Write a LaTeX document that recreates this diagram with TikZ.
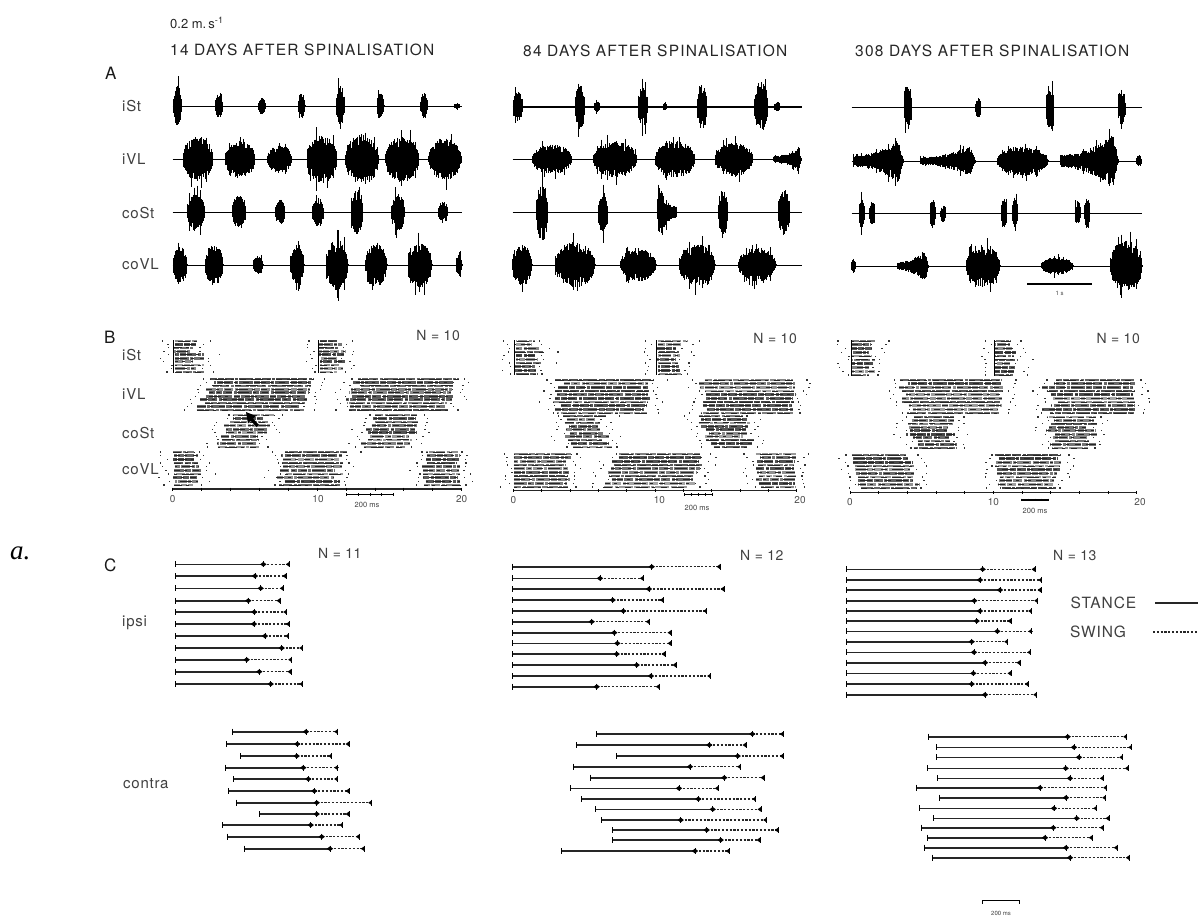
\documentclass[tikz,border=0pt]{standalone}
\usepackage{fontspec}
\setmainfont{TeX Gyre Heros}
\newfontfamily\figserif{Liberation Serif}
\newcommand\hdrfont{\fontsize{15.5}{16}\selectfont\addfontfeatures{LetterSpace=8}}
\newcommand\lblfont{\fontsize{15}{16}\selectfont\addfontfeatures{LetterSpace=5}}
\newcommand\panfont{\fontsize{17}{18}\selectfont}
\newcommand\nfont{\fontsize{14}{15}\selectfont\addfontfeatures{LetterSpace=4}}
\newcommand\tickfont{\fontsize{10}{11}\selectfont}
\newcommand\smallfont{\fontsize{7.5}{8}\selectfont}
% symmetric EMG burst: centre x, baseline y, half width, amplitude
\newcommand\emgb[4]{%
  \pgfmathtruncatemacro\emgN{round(2*#3/0.4)}%
  \foreach \emgK in {0,...,\emgN}{%
    \pgfmathsetmacro\emgT{-1+2*\emgK/\emgN}%
    \pgfmathsetmacro\emgX{#1+#3*\emgT}%
    \pgfmathsetmacro\emgE{sqrt(max(0,1-\emgT*\emgT))}%
    \pgfmathsetmacro\emgS{rnd>0.93?1.5:1}%
    \pgfmathsetmacro\emgU{#4*\emgE*\emgS*(0.45+0.55*rnd)+0.8}%
    \pgfmathsetmacro\emgD{#4*\emgE*\emgS*(0.45+0.55*rnd)+0.8}%
    \draw[emg] (\emgX,#2-\emgU) -- (\emgX,#2+\emgD);
  }}
% ramp EMG burst: x0, x1, baseline y, amplitude, direction (1 rising, -1 falling)
\newcommand\emgr[5]{%
  \pgfmathtruncatemacro\emgN{round((#2-#1)/0.4)}%
  \foreach \emgK in {0,...,\emgN}{%
    \pgfmathsetmacro\emgT{\emgK/\emgN}%
    \pgfmathsetmacro\emgV{#5>0?\emgT:1-\emgT}%
    \pgfmathsetmacro\emgX{#1+(#2-#1)*\emgT}%
    \pgfmathsetmacro\emgE{(0.18+0.82*\emgV*\emgV)*min(1,(1-\emgV)*10+0.05)}%
    \pgfmathsetmacro\emgS{rnd>0.93?1.5:1}%
    \pgfmathsetmacro\emgU{#4*\emgE*\emgS*(0.45+0.55*rnd)+0.8}%
    \pgfmathsetmacro\emgD{#4*\emgE*\emgS*(0.45+0.55*rnd)+0.8}%
    \draw[emg] (\emgX,#3-\emgU) -- (\emgX,#3+\emgD);
  }}
% raster band: x0 x1 ytop ybot shift jitterstart jitterend
\newcommand\rband[7]{%
  \foreach \rbR in {0,...,9}{%
    \pgfmathsetmacro\rbY{#3+(#4-#3)*\rbR/9}%
    \pgfmathsetmacro\rbS{#1+#5*\rbR/9+#6*rand}%
    \pgfmathsetmacro\rbE{#2+#5*\rbR/9+#7*rand}%
    \pgfmathsetmacro\rbP{25*rnd}%
    \pgfmathsetmacro\rbQ{20*rnd}%
    \pgfmathtruncatemacro\rbG{35+40*rnd}%
    \draw[rastrow,black!\rbG,dash phase=\rbP] (\rbS,\rbY) -- (\rbE,\rbY);
    \draw[rastblk,dash phase=\rbQ] (\rbS,\rbY) -- (\rbE,\rbY);
    \pgfmathsetmacro\rbA{\rbS-3-12*rnd}%
    \pgfmathsetmacro\rbB{\rbE+3+12*rnd}%
    \fill[black!80] (\rbA,\rbY-0.6) rectangle ++(1.3,1.2);
    \fill[black!80] (\rbB,\rbY-0.6) rectangle ++(1.3,1.2);
  }}
% step bar of panel C: y, start, mid, end
\newcommand\cbar[4]{%
  \draw[stance] (#2,#1) -- (#3,#1);
  \draw[swing] (#3,#1) -- (#4,#1);
  \draw[ctick] (#2,#1-3) -- (#2,#1+3);
  \draw[ctick] (#3,#1-3) -- (#3,#1+3);
  \fill[cmark] (#3-3.2,#1) -- (#3,#1-2.4) -- (#3+3.2,#1) -- (#3,#1+2.4) -- cycle;
  \draw[ctick] (#4,#1-3) -- (#4,#1+3);
  \fill[cmark] (#4,#1-2.4) -- (#4-3.5,#1) -- (#4,#1+2.4) -- cycle;
}
\begin{document}
\begin{tikzpicture}[x=1pt,y=-1pt,
  emg/.style={line width=0.9pt,black},
  base/.style={line width=1pt,black},
  rastrow/.style={line width=2.7pt,dash pattern=on 14pt off 1.2pt on 6pt off 1pt on 9pt off 1.6pt on 3pt off 1pt},
  rastblk/.style={line width=0.9pt,black!85,dash pattern=on 6pt off 5pt on 12pt off 4pt on 3pt off 6pt},
  stance/.style={line width=1.6pt,black!85},
  swing/.style={line width=1.1pt,black!85,dash pattern=on 2.2pt off 1.6pt},
  ctick/.style={line width=1pt,black},
  cmark/.style={fill=black},
  axisl/.style={line width=1.1pt,black!85},
  sbar/.style={line width=1.1pt,black},
  hdr/.style={font=\hdrfont,text=black!85,inner sep=0pt,anchor=west},
  lbl/.style={font=\lblfont,text=black!75,inner sep=0pt,anchor=west},
  pan/.style={font=\panfont,text=black!90,inner sep=0pt,anchor=west},
  ncount/.style={font=\nfont,text=black!75,inner sep=0pt},
  ticklbl/.style={font=\tickfont,text=black!70,inner sep=0pt},
  small/.style={font=\smallfont,text=black!75,inner sep=0pt}]
\useasboundingbox (0,0) rectangle (1198,919);
\pgfmathsetseed{20240}

% ---------------- headers ----------------
\node[anchor=west,inner sep=0pt,font=\fontsize{13}{14}\selectfont,text=black!85] (speed) at (170,23) {0.2 m.\,s\textsuperscript{-1}};
\node[hdr] (h14) at (170,50) {14 DAYS AFTER SPINALISATION};
\node[hdr] (h84) at (523,51) {84 DAYS AFTER SPINALISATION};
\node[hdr] (h308) at (855,51) {308 DAYS AFTER SPINALISATION};
\node[anchor=west,inner sep=0pt,font=\figserif\itshape\fontsize{27}{27}\selectfont] (fa) at (10,553) {a.};

% ---------------- panel A ----------------
\node[pan] (pA) at (105,73) {A};
\node[lbl] (aiSt) at (122,106) {iSt};
\node[lbl] (aiVL) at (122,159) {iVL};
\node[lbl] (acoSt) at (122,213) {coSt};
\node[lbl] (acoVL) at (122,264) {coVL};

% left column baselines
\draw[base] (172.7,106) -- (461.7,106);
\draw[base] (172.7,159.3) -- (461.7,159.3);
\draw[base] (172.7,212.3) -- (461.7,212.3);
\draw[base] (172.7,265) -- (461.7,265);
\foreach \bc/\bw/\ba in {177.5/4/20, 219/3.5/12, 262/3.5/8, 301.5/3.5/12, 340.5/4/20, 380.5/3.5/12, 424/3.5/12, 457/2.5/2}{\emgb{\bc}{106}{\bw}{\ba}}
\foreach \bc/\bw/\ba in {198/15/22, 240/15/18, 279.5/12.5/13, 322/15/23, 362/17/25, 402/17/22, 445/16.5/20}{\emgb{\bc}{159.3}{\bw}{\ba}}
\foreach \bc/\bw/\ba in {196/9/18, 239/7/16, 280/5/12, 318/6/14, 357/6/22, 398/7/18, 443/5/10}{\emgb{\bc}{212.3}{\bw}{\ba}}
\foreach \bc/\bw/\ba in {180/7/18, 214/9/20, 258/5/8, 297/7/18, 337/11/25, 376/11/22, 420/12/22, 459/3/10}{\emgb{\bc}{265}{\bw}{\ba}}

% middle column
\draw[base,line width=1.7pt] (512.7,106.7) -- (801.7,106.7);
\draw[base] (512.7,159.3) -- (801.7,159.3);
\draw[base] (512.7,212.3) -- (801.7,212.3);
\draw[base] (512.7,265) -- (801.7,265);
\foreach \bc/\bw/\ba in {518/5/15, 580/5/22, 597/3/5, 643/5/20, 665/2/3, 702/5/22, 761/7/25, 777/3/4}{\emgb{\bc}{106.7}{\bw}{\ba}}
\foreach \bc/\bw/\ba in {552/20/14, 615/22/17, 675/20/18, 734/19/16}{\emgb{\bc}{159.3}{\bw}{\ba}}
\emgr{773}{801}{159.3}{12}{1}
\foreach \bc/\bw/\ba in {542/6/28, 603/5/20, 723/5/22, 784/6/22}{\emgb{\bc}{212.3}{\bw}{\ba}}
\emgr{657}{676}{212.3}{30}{-1}
\foreach \bc/\bw/\ba in {522/10/20, 575/20/22, 638/18/16, 697/18/20, 757/19/16}{\emgb{\bc}{265}{\bw}{\ba}}

% right column
\draw[base] (851.7,107.3) -- (1141.7,107.3);
\draw[base] (851.7,161) -- (1141.7,161);
\draw[base] (851.7,213.3) -- (1141.7,213.3);
\draw[base] (851.7,266) -- (1141.7,266);
\foreach \bc/\bw/\ba in {907.7/4/22, 978.3/3/10, 1050/4/22, 1121.7/4/17}{\emgb{\bc}{107.3}{\bw}{\ba}}
\emgr{853}{903}{161}{25}{1}
\emgr{920}{975}{161}{17}{1}
\emgb{1022.5}{161}{25.5}{14}
\emgr{1060}{1118}{161}{30}{1}
\emgb{1139}{161}{2.5}{5}
\foreach \bc/\bw/\ba in {861.7/3/15, 872.3/3/11, 932.7/3/15, 943.3/3/8, 1004.3/3/15, 1015/3/15, 1077.7/3/12, 1087.3/3/15}{\emgb{\bc}{213.3}{\bw}{\ba}}
\foreach \bc/\bw/\ba in {853.5/2/7, 983/17/20, 1057/16/8, 1126/16/25}{\emgb{\bc}{266}{\bw}{\ba}}
\emgr{897}{928}{266}{18}{1}
% 1 s scale bar
\coordinate (s1a) at (1027.3,284);
\coordinate (s1b) at (1091.7,284);
\draw[sbar] (s1a) -- (s1b);
\node[small,font=\fontsize{6}{6}\selectfont] (s1t) at (1059.5,293) {1 s};

% ---------------- panel B ----------------
\node[pan] (pB) at (104,337) {B};
\node[lbl] (biSt) at (122,355) {iSt};
\node[lbl] (biVL) at (122,394) {iVL};
\node[lbl] (bcoSt) at (122,433) {coSt};
\node[lbl] (bcoVL) at (122,469) {coVL};
\node[ncount,anchor=east] (n10a) at (460,335) {N = 10};
\node[ncount,anchor=east] (n10b) at (797,338) {N = 10};
\node[ncount,anchor=east] (n10c) at (1140,338) {N = 10};

% left rasters
\rband{174.5}{198}{341}{372}{0}{0.5}{8}
\rband{319.5}{343}{341}{372}{0}{0.5}{8}
\draw[line width=1pt] (173.5,340) -- (173.5,373);
\draw[line width=1pt] (318.5,340) -- (318.5,373);
\rband{213}{313}{379}{410}{-13}{5}{4}
\rband{357}{457}{379}{410}{-10}{5}{3}
\rband{232}{270}{415}{447}{-14}{4}{5}
\rband{375}{418}{415}{447}{-12}{4}{5}
\rband{174}{198}{452}{485}{0}{1}{7}
\rband{285}{343}{452}{485}{-5}{5}{5}
\rband{424}{459}{452}{485}{0}{3}{2}
\fill (246,412) -- (256,416) -- (253,418.5) -- (259,425) -- (256.5,427) -- (250.5,420.5) -- (248,423.5) -- cycle;
\draw[axisl] (172.7,489) -- (461.7,489);
\foreach \i in {0,...,10}{\draw[line width=0.9pt] (172.7+28.9*\i,487.5) -- (172.7+28.9*\i,490.5);}
\node[ticklbl] (l0a) at (172.7,499) {0};
\node[ticklbl] (l10a) at (318,499) {10};
\node[ticklbl] (l20a) at (461.7,499) {20};
\draw[sbar] (346.7,494.3) -- (393.3,494.3);
\foreach \i in {0,...,4}{\draw[line width=0.8pt] (346.7+11.65*\i,493) -- (346.7+11.65*\i,495.6);}
\node[small] (ms200a) at (367,505) {200 ms};

% middle rasters
\rband{515.5}{538}{341}{374}{0}{0.5}{7}
\rband{657.5}{681}{341}{374}{0}{0.5}{7}
\draw[line width=1pt] (514.5,340) -- (514.5,375);
\draw[line width=1pt] (656.5,340) -- (656.5,375);
\rband{560}{652}{380}{413}{-4}{5}{5}
\rband{703}{794}{380}{413}{0}{4}{2}
\rband{562}{600}{416}{447}{10}{4}{6}
\rband{700}{742}{416}{447}{10}{4}{6}
\rband{514}{570}{454}{487}{0}{0.5}{5}
\rband{618}{703}{454}{487}{-12}{4}{4}
\rband{758}{795}{454}{487}{0}{3}{1.5}
\draw[axisl] (513.3,490.7) -- (796.7,490.7);
\foreach \i in {0,...,10}{\draw[line width=0.9pt] (513.3+28.34*\i,489.2) -- (513.3+28.34*\i,492.2);}
\node[ticklbl] (l0b) at (513.3,500) {0};
\node[ticklbl] (l10b) at (659.3,500) {10};
\node[ticklbl] (l20b) at (800,500) {20};
\draw[sbar] (684.3,494.3) -- (712.7,494.3);
\foreach \i in {0,...,4}{\draw[line width=0.8pt] (684.3+7.1*\i,493) -- (684.3+7.1*\i,495.6);}
\node[small] (ms200b) at (697,508) {200 ms};

% right rasters
\rband{852}{871}{341}{375}{0}{0.5}{5}
\rband{995}{1014}{341}{375}{0}{0.5}{5}
\draw[line width=1pt] (851,340) -- (851,376);
\draw[line width=1pt] (994,340) -- (994,376);
\rband{905}{1001}{380}{413}{0}{8}{3}
\rband{1050}{1135}{380}{413}{0}{8}{2}
\rband{912}{952}{417}{448}{0}{6}{6}
\rband{1050}{1092}{417}{448}{0}{6}{6}
\rband{852}{910}{455}{488}{8}{1}{5}
\rband{995}{1055}{455}{488}{4}{2}{5}
\draw[axisl] (850,492.7) -- (1136.7,492.7);
\foreach \i in {0,...,10}{\draw[line width=0.9pt] (850+28.67*\i,491.2) -- (850+28.67*\i,494.2);}
\node[ticklbl] (l0c) at (850,502) {0};
\node[ticklbl] (l10c) at (993.3,502) {10};
\node[ticklbl] (l20c) at (1140,502) {20};
\draw[sbar] (1021.7,500) -- (1048.3,500);
\foreach \i in {0,...,4}{\draw[line width=0.8pt] (1021.7+6.65*\i,498.7) -- (1021.7+6.65*\i,501.3);}
\node[small] (ms200c) at (1035,510.7) {200 ms};

% ---------------- panel C ----------------
\node[pan] (pC) at (104,565) {C};
\node[lbl] (cipsi) at (122,623) {ipsi};
\node[lbl] (ccontra) at (123,784) {contra};
\node[ncount,anchor=west] (n11) at (318,553) {N = 11};
\node[ncount,anchor=west] (n12) at (740,555) {N = 12};
\node[ncount,anchor=west] (n13) at (1053,555) {N = 13};

\foreach \bY/\bM/\bE in {564.3/263.3/289.3, 576/255/286, 588.3/260.7/283.3, 600.7/248.3/280, 612/254.3/286.7, 624/254/289.3, 636/265/288.7, 648/281.7/302.7, 659.7/246.7/291.7, 671.7/259.3/291, 684/270.7/302.7}{\cbar{\bY}{175}{\bM}{\bE}}
\foreach \bY/\bS/\bM/\bE in {731.7/232.3/306/337.7, 744/226/297.3/349, 756/240.7/296.7/331.7, 767.7/225/303.3/337.7, 779/233.3/308.3/337.7, 791/228.3/314.3/349, 802.7/236.7/316.7/371.7, 814/259.3/316.7/349, 825/222.3/310.7/342.7, 836.7/227.3/321.7/359.3, 848.7/244/330/364.3}{\cbar{\bY}{\bS}{\bM}{\bE}}

\foreach \bY/\bM/\bE in {566.7/651.7/720, 578.3/600/643.3, 589/649/724, 600/612.7/663.3, 611/623.3/706.7, 621.7/591.7/649.3, 632.7/614.3/671, 643.3/617.3/671, 654/616.7/665, 665/636.7/676, 676/651/710.7, 686.7/596.7/659.3}{\cbar{\bY}{512.5}{\bM}{\bE}}
\foreach \bY/\bS/\bM/\bE in {734/596/752.3/783.3, 745/576.7/709.3/746, 756/616.7/737.7/783.3, 766.7/573.3/690/740.7, 777.7/590/724.3/764, 788.3/570/679/718.3, 799/581/698.3/755.7, 809.3/595/712.7/761, 820/601.7/680.7/766.7, 830/612.7/706.7/778.3, 840/612.7/720.7/760, 851/561/695/729.3}{\cbar{\bY}{\bS}{\bM}{\bE}}

\foreach \bY/\bM/\bE in {569.3/982.7/1035, 580/980/1041.7, 590/1000/1041, 600.7/974.3/1037.7, 611/980/1031.7, 621/976.7/1011, 631.3/997.3/1031.7, 641.7/971.7/1007.7, 652.3/974/1030.7, 662.7/985/1020, 673.3/973.3/1011, 684/971.7/1028.3, 694.7/985/1036.7}{\cbar{\bY}{846}{\bM}{\bE}}
\foreach \bY/\bS/\bM/\bE in {736.7/928.3/1067.7/1126.7, 747.3/936.7/1074/1131.7, 757.3/936.7/1079/1122.7, 768.3/927.7/1065.7/1128.3, 778.3/937.3/1070/1103.3, 787.7/916.7/1040/1106.7, 797.7/939/1066/1105.7, 808.3/919.3/1054/1096.7, 818.3/933.3/1076.7/1109, 827.7/921.7/1053.3/1103.3, 837.7/927.7/1045/1092.3, 847.7/924.3/1066/1117.3, 857.7/932.7/1070/1129.3}{\cbar{\bY}{\bS}{\bM}{\bE}}

% legend
\node[lbl,font=\fontsize{15.5}{16}\selectfont\addfontfeatures{LetterSpace=6}] (stance) at (1070.5,603) {STANCE};
\node[lbl,font=\fontsize{15.5}{16}\selectfont\addfontfeatures{LetterSpace=6}] (swing) at (1070,632) {SWING};
\coordinate (st1) at (1155,603);
\coordinate (st2) at (1198,603);
\coordinate (sw1) at (1153,632);
\coordinate (sw2) at (1198,632);
\draw[stance] (st1) -- (st2);
\draw[swing] (sw1) -- (sw2);

% bottom scale bar
\coordinate (sbA) at (982.7,900.5);
\coordinate (sbB) at (1019,900.5);
\draw[line width=0.9pt] ([yshift=-3pt]sbA) -- (sbA) -- (sbB) -- ([yshift=-3pt]sbB);
\node[small,font=\fontsize{6}{6}\selectfont] (ms200d) at (1001,913) {200 ms};
\end{tikzpicture}
\end{document}
